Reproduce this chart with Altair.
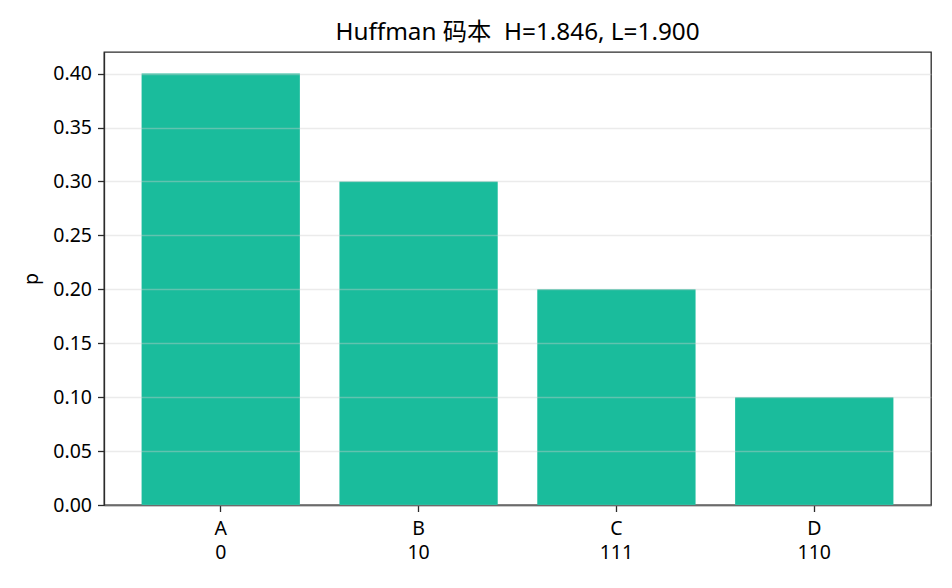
import altair as alt
import pandas as pd

symbols = ["A", "B", "C", "D"]
codes = ["0", "10", "111", "110"]
probs = [0.40, 0.30, 0.20, 0.10]
title_text = "Huffman 码本 \u00a0H=1.846, L=1.900"

labels = [f"{s}\n{c}" for s, c in zip(symbols, codes)]
df = pd.DataFrame({"label": labels, "p": probs})

FONT = "Noto Sans, Noto Sans CJK SC, sans-serif"
DARK = "#2b2b2b"

chart = (
    alt.Chart(df)
    .mark_bar(color="#1ABC9C")
    .encode(
        x=alt.X(
            "label:N",
            sort=labels,
            scale=alt.Scale(paddingInner=0.2, paddingOuter=0.19),
            axis=alt.Axis(
                title=None,
                labelAngle=0,
                labelExpr="split(datum.label, '\\n')",
                labelLineHeight=23.5,
                labelPadding=8,
                labelFontSize=19.5,
                labelColor="#000000",
                tickSize=6.5,
                tickColor=DARK,
                tickWidth=1.3,
                domainColor=DARK,
                domainWidth=1.3,
                grid=False,
            ),
        ),
        y=alt.Y(
            "p:Q",
            scale=alt.Scale(domain=[0, 0.42], nice=False, zero=True),
            axis=alt.Axis(
                title="p",
                values=[0, 0.05, 0.10, 0.15, 0.20, 0.25, 0.30, 0.35, 0.40],
                format=".2f",
                labelFontSize=19.5,
                labelColor="#000000",
                labelPadding=6,
                tickSize=6.5,
                tickColor=DARK,
                tickWidth=1.3,
                domainColor=DARK,
                domainWidth=1.3,
                grid=True,
                gridColor="#cccccc",
                gridOpacity=0.4,
                gridWidth=1.3,
                zindex=1,
                titleFontSize=19.5,
                titleFontWeight="normal",
                titleColor="#000000",
                titleAngle=270,
                titleX=-67,
                titleY=226.5,
                titleAlign="center",
                titleBaseline="alphabetic",
            ),
        ),
    )
    .properties(
        width=827,
        height=453,
        title=alt.TitleParams(
            title_text,
            fontSize=24.3,
            fontWeight="normal",
            color="#000000",
            anchor="middle",
            baseline="alphabetic",
            offset=11,
            dy=23,
        ),
        autosize=alt.AutoSizeParams(type="none"),
        padding={"left": 96, "top": 44, "right": 13, "bottom": 75},
    )
    .configure(font=FONT)
    .configure_view(stroke=DARK, strokeWidth=1.3)
    .configure_axis(labelFont=FONT, titleFont=FONT)
    .configure_title(font=FONT)
)

chart.save("out.html", embed_options={"renderer": "svg", "actions": False})
